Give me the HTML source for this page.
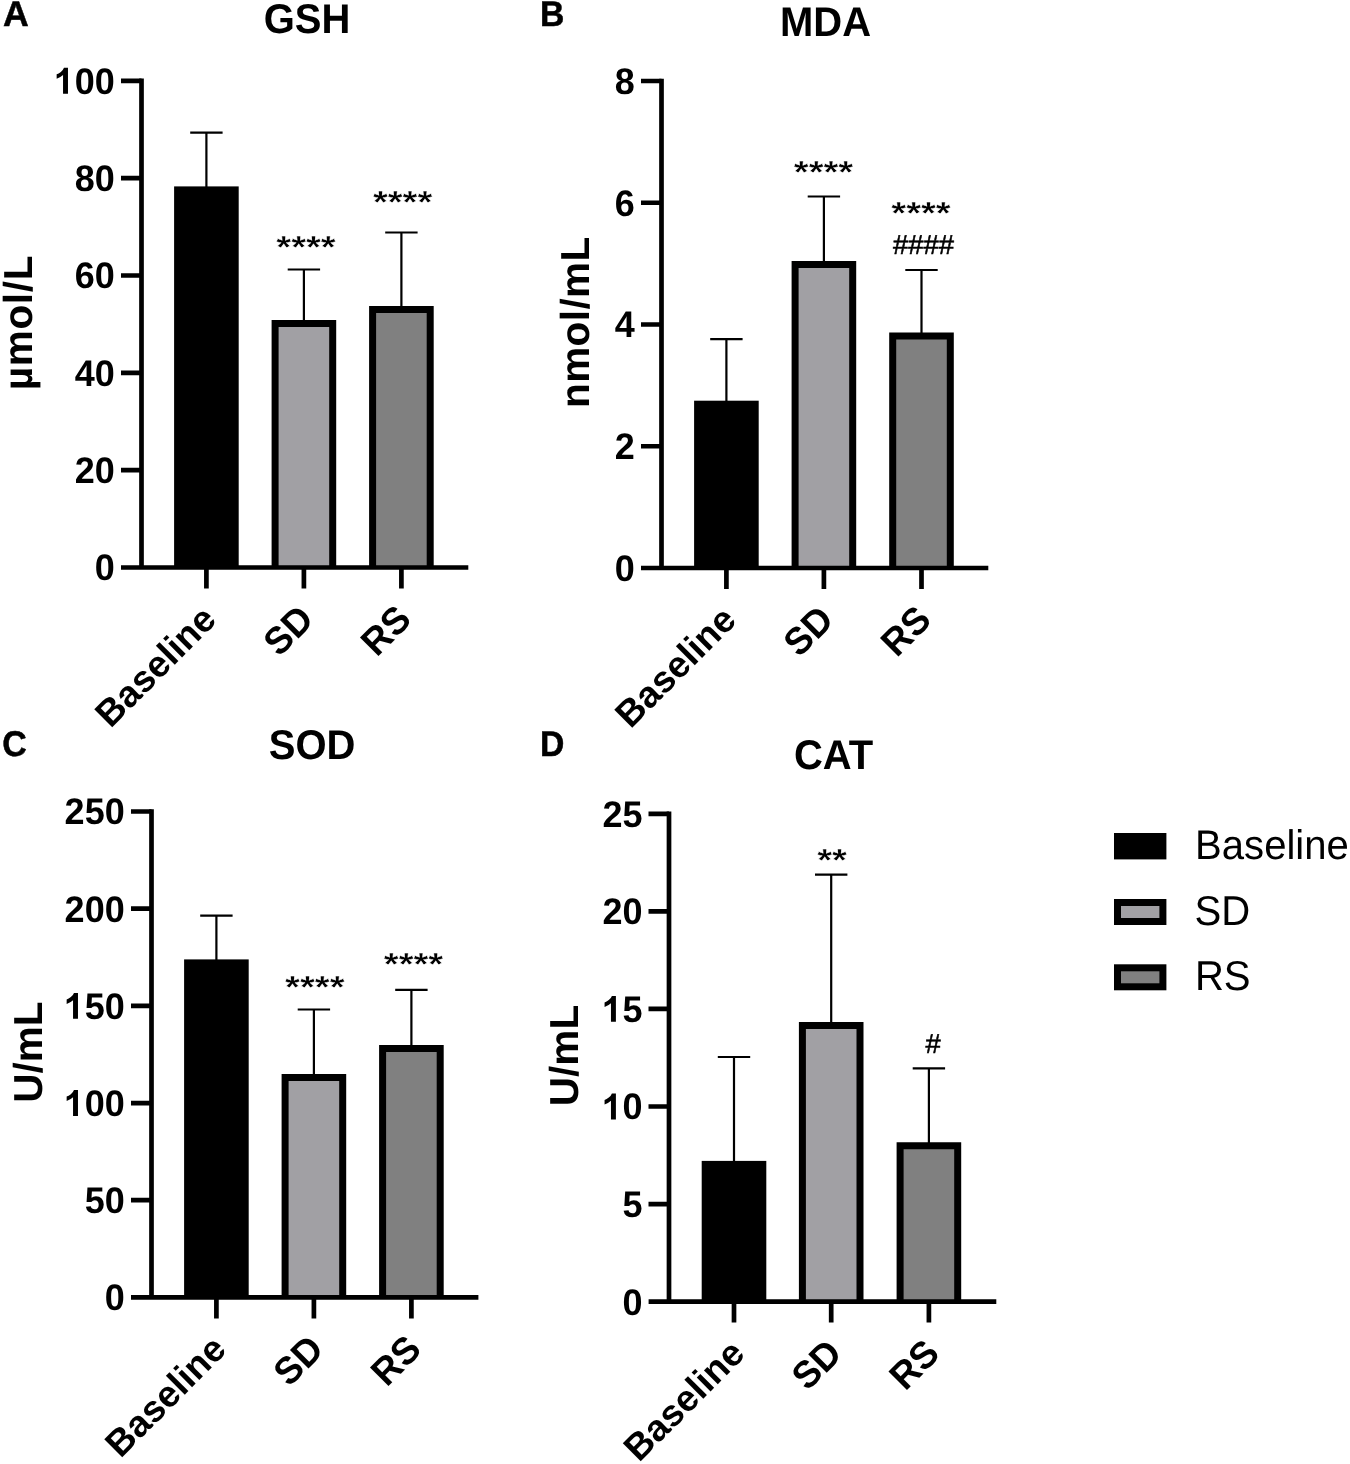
<!DOCTYPE html>
<html lang="en">
<head>
<meta charset="utf-8">
<title>Figure: GSH, MDA, SOD, CAT</title>
<style>
html,body{margin:0;padding:0;background:#fff;}
body{width:1350px;height:1464px;overflow:hidden;font-family:"Liberation Sans",sans-serif;}
svg{display:block;will-change:transform;}
</style>
</head>
<body>
<svg width="1350" height="1464" viewBox="0 0 1350 1464" font-family="Liberation Sans, sans-serif" fill="#000" shape-rendering="geometricPrecision" text-rendering="geometricPrecision">
<path d="M206.40 188.40V132.70M190.20 132.70H222.60" stroke="#000" stroke-width="2.2" fill="none"/>
<rect x="174.10" y="186.40" width="64.60" height="381.10" fill="#000"/>
<path d="M303.90 322.00V269.50M287.70 269.50H320.10" stroke="#000" stroke-width="2.2" fill="none"/>
<path d="M275.10 567.50V323.50H332.70V567.50" fill="#a1a0a4" stroke="#000" stroke-width="7.0" stroke-linejoin="miter"/>
<path d="M401.40 308.10V232.50M385.20 232.50H417.60" stroke="#000" stroke-width="2.2" fill="none"/>
<path d="M372.60 567.50V309.60H430.20V567.50" fill="#808080" stroke="#000" stroke-width="7.0" stroke-linejoin="miter"/>
<path d="M141.50 78.45V567.50M121.00 567.50H468.30" stroke="#000" stroke-width="4.7" fill="none"/>
<text transform="translate(114.70 580.40) scale(1.0 1.025)" font-size="36" font-weight="bold" text-anchor="end">0</text>
<text transform="translate(114.70 483.06) scale(1.0 1.025)" font-size="36" font-weight="bold" text-anchor="end">20</text>
<text transform="translate(114.70 385.72) scale(1.0 1.025)" font-size="36" font-weight="bold" text-anchor="end">40</text>
<text transform="translate(114.70 288.38) scale(1.0 1.025)" font-size="36" font-weight="bold" text-anchor="end">60</text>
<text transform="translate(114.70 191.04) scale(1.0 1.025)" font-size="36" font-weight="bold" text-anchor="end">80</text>
<path transform="translate(53.81 93.70) scale(0.01758 -0.01758)" d="M806 0H525V1059Q371 915 162 846V1101Q272 1137 401 1237.5T578 1472H806Z"/>
<text transform="translate(114.70 93.70) scale(1.0 1.025)" font-size="36" font-weight="bold" text-anchor="end">00</text>
<path d="M121.00 470.16H141.50M121.00 372.82H141.50M121.00 275.48H141.50M121.00 178.14H141.50M121.00 80.80H141.50M206.40 567.50V588.50M303.90 567.50V588.50M401.40 567.50V588.50" stroke="#000" stroke-width="4.7" fill="none"/>
<text transform="translate(218.10 621.40) rotate(-45)" font-size="37" font-weight="bold" text-anchor="end">Baseline</text>
<text transform="translate(315.60 621.40) rotate(-45) scale(1.0 1.03)" font-size="37" font-weight="bold" text-anchor="end">SD</text>
<text transform="translate(413.10 621.40) rotate(-45) scale(1.0 1.03)" font-size="37" font-weight="bold" text-anchor="end">RS</text>
<text transform="translate(307.00 32.70) scale(1.0 1.04)" font-size="40" font-weight="bold" text-anchor="middle">GSH</text>
<text transform="translate(2.90 26.00)" font-size="35.7" font-weight="bold" text-anchor="start" stroke="#000" stroke-width="0.5">A</text>
<text transform="translate(31.80 322.60) rotate(-90)" font-size="40.5" font-weight="bold" text-anchor="middle" letter-spacing="0.7">µmol/L</text>
<text transform="translate(306.00 257.80) scale(1.0 0.84)" font-size="38.2" font-weight="bold" text-anchor="middle" stroke="#fff" stroke-width="0.55">****</text>
<text transform="translate(402.60 212.80) scale(1.0 0.84)" font-size="38.2" font-weight="bold" text-anchor="middle" stroke="#fff" stroke-width="0.55">****</text>
<path d="M726.40 402.70V339.10M710.20 339.10H742.60" stroke="#000" stroke-width="2.2" fill="none"/>
<rect x="694.10" y="400.70" width="64.60" height="167.30" fill="#000"/>
<path d="M823.90 263.00V196.50M807.70 196.50H840.10" stroke="#000" stroke-width="2.2" fill="none"/>
<path d="M795.10 568.00V264.50H852.70V568.00" fill="#a1a0a4" stroke="#000" stroke-width="7.0" stroke-linejoin="miter"/>
<path d="M921.50 334.60V270.00M905.30 270.00H937.70" stroke="#000" stroke-width="2.2" fill="none"/>
<path d="M892.70 568.00V336.10H950.30V568.00" fill="#808080" stroke="#000" stroke-width="7.0" stroke-linejoin="miter"/>
<path d="M661.50 78.65V568.00M641.00 568.00H988.30" stroke="#000" stroke-width="4.7" fill="none"/>
<text transform="translate(634.70 580.90) scale(1.0 1.025)" font-size="36" font-weight="bold" text-anchor="end">0</text>
<text transform="translate(634.70 459.15) scale(1.0 1.025)" font-size="36" font-weight="bold" text-anchor="end">2</text>
<text transform="translate(634.70 337.40) scale(1.0 1.025)" font-size="36" font-weight="bold" text-anchor="end">4</text>
<text transform="translate(634.70 215.65) scale(1.0 1.025)" font-size="36" font-weight="bold" text-anchor="end">6</text>
<text transform="translate(634.70 93.90) scale(1.0 1.025)" font-size="36" font-weight="bold" text-anchor="end">8</text>
<path d="M641.00 446.25H661.50M641.00 324.50H661.50M641.00 202.75H661.50M641.00 81.00H661.50M726.40 568.00V589.00M823.90 568.00V589.00M921.50 568.00V589.00" stroke="#000" stroke-width="4.7" fill="none"/>
<text transform="translate(738.10 621.90) rotate(-45)" font-size="37" font-weight="bold" text-anchor="end">Baseline</text>
<text transform="translate(835.60 621.90) rotate(-45) scale(1.0 1.03)" font-size="37" font-weight="bold" text-anchor="end">SD</text>
<text transform="translate(933.20 621.90) rotate(-45) scale(1.0 1.03)" font-size="37" font-weight="bold" text-anchor="end">RS</text>
<text transform="translate(825.50 36.00) scale(1.0 1.04)" font-size="40" font-weight="bold" text-anchor="middle">MDA</text>
<text transform="translate(540.10 26.00) scale(0.945 1.0)" font-size="35.7" font-weight="bold" text-anchor="start" stroke="#000" stroke-width="0.5">B</text>
<text transform="translate(588.90 322.20) rotate(-90)" font-size="40.5" font-weight="bold" text-anchor="middle" letter-spacing="0.4">nmol/mL</text>
<text transform="translate(823.50 182.80) scale(1.0 0.84)" font-size="38.2" font-weight="bold" text-anchor="middle" stroke="#fff" stroke-width="0.55">****</text>
<text transform="translate(921.00 223.80) scale(1.0 0.84)" font-size="38.2" font-weight="bold" text-anchor="middle" stroke="#fff" stroke-width="0.55">****</text>
<text transform="translate(923.50 253.90)" font-size="27.4" text-anchor="middle" stroke="#000" stroke-width="0.55">####</text>
<path d="M216.40 961.40V915.60M200.20 915.60H232.60" stroke="#000" stroke-width="2.2" fill="none"/>
<rect x="184.10" y="959.40" width="64.60" height="338.00" fill="#000"/>
<path d="M313.90 1076.10V1009.50M297.70 1009.50H330.10" stroke="#000" stroke-width="2.2" fill="none"/>
<path d="M285.10 1297.40V1077.60H342.70V1297.40" fill="#a1a0a4" stroke="#000" stroke-width="7.0" stroke-linejoin="miter"/>
<path d="M411.40 1047.00V989.90M395.20 989.90H427.60" stroke="#000" stroke-width="2.2" fill="none"/>
<path d="M382.60 1297.40V1048.50H440.20V1297.40" fill="#808080" stroke="#000" stroke-width="7.0" stroke-linejoin="miter"/>
<path d="M151.50 809.15V1297.40M131.00 1297.40H478.40" stroke="#000" stroke-width="4.7" fill="none"/>
<text transform="translate(124.70 1310.30) scale(1.0 1.025)" font-size="36" font-weight="bold" text-anchor="end">0</text>
<text transform="translate(124.70 1213.12) scale(1.0 1.025)" font-size="36" font-weight="bold" text-anchor="end">50</text>
<path transform="translate(63.81 1115.94) scale(0.01758 -0.01758)" d="M806 0H525V1059Q371 915 162 846V1101Q272 1137 401 1237.5T578 1472H806Z"/>
<text transform="translate(124.70 1115.94) scale(1.0 1.025)" font-size="36" font-weight="bold" text-anchor="end">00</text>
<path transform="translate(63.81 1018.76) scale(0.01758 -0.01758)" d="M806 0H525V1059Q371 915 162 846V1101Q272 1137 401 1237.5T578 1472H806Z"/>
<text transform="translate(124.70 1018.76) scale(1.0 1.025)" font-size="36" font-weight="bold" text-anchor="end">50</text>
<text transform="translate(124.70 921.58) scale(1.0 1.025)" font-size="36" font-weight="bold" text-anchor="end">200</text>
<text transform="translate(124.70 824.40) scale(1.0 1.025)" font-size="36" font-weight="bold" text-anchor="end">250</text>
<path d="M131.00 1200.22H151.50M131.00 1103.04H151.50M131.00 1005.86H151.50M131.00 908.68H151.50M131.00 811.50H151.50M216.40 1297.40V1318.40M313.90 1297.40V1318.40M411.40 1297.40V1318.40" stroke="#000" stroke-width="4.7" fill="none"/>
<text transform="translate(228.10 1351.30) rotate(-45)" font-size="37" font-weight="bold" text-anchor="end">Baseline</text>
<text transform="translate(325.60 1351.30) rotate(-45) scale(1.0 1.03)" font-size="37" font-weight="bold" text-anchor="end">SD</text>
<text transform="translate(423.10 1351.30) rotate(-45) scale(1.0 1.03)" font-size="37" font-weight="bold" text-anchor="end">RS</text>
<text transform="translate(312.10 758.90) scale(1.0 1.04)" font-size="40" font-weight="bold" text-anchor="middle">SOD</text>
<text transform="translate(2.30 755.90) scale(0.95 1.0)" font-size="35.7" font-weight="bold" text-anchor="start" stroke="#000" stroke-width="0.5">C</text>
<text transform="translate(41.50 1052.20) rotate(-90)" font-size="40.5" font-weight="bold" text-anchor="middle">U/mL</text>
<text transform="translate(314.80 998.30) scale(1.0 0.84)" font-size="38.2" font-weight="bold" text-anchor="middle" stroke="#fff" stroke-width="0.55">****</text>
<text transform="translate(413.50 975.30) scale(1.0 0.84)" font-size="38.2" font-weight="bold" text-anchor="middle" stroke="#fff" stroke-width="0.55">****</text>
<path d="M734.00 1162.90V1057.00M717.80 1057.00H750.20" stroke="#000" stroke-width="2.2" fill="none"/>
<rect x="701.70" y="1160.90" width="64.60" height="140.70" fill="#000"/>
<path d="M831.20 1024.10V874.70M815.00 874.70H847.40" stroke="#000" stroke-width="2.2" fill="none"/>
<path d="M802.40 1301.60V1025.60H860.00V1301.60" fill="#a1a0a4" stroke="#000" stroke-width="7.0" stroke-linejoin="miter"/>
<path d="M928.90 1144.30V1068.30M912.70 1068.30H945.10" stroke="#000" stroke-width="2.2" fill="none"/>
<path d="M900.10 1301.60V1145.80H957.70V1301.60" fill="#808080" stroke="#000" stroke-width="7.0" stroke-linejoin="miter"/>
<path d="M669.00 811.45V1301.60M648.60 1301.60H996.30" stroke="#000" stroke-width="4.7" fill="none"/>
<text transform="translate(642.60 1314.50) scale(1.0 1.025)" font-size="36" font-weight="bold" text-anchor="end">0</text>
<text transform="translate(642.60 1216.94) scale(1.0 1.025)" font-size="36" font-weight="bold" text-anchor="end">5</text>
<path transform="translate(601.73 1119.38) scale(0.01758 -0.01758)" d="M806 0H525V1059Q371 915 162 846V1101Q272 1137 401 1237.5T578 1472H806Z"/>
<text transform="translate(642.60 1119.38) scale(1.0 1.025)" font-size="36" font-weight="bold" text-anchor="end">0</text>
<path transform="translate(601.73 1021.82) scale(0.01758 -0.01758)" d="M806 0H525V1059Q371 915 162 846V1101Q272 1137 401 1237.5T578 1472H806Z"/>
<text transform="translate(642.60 1021.82) scale(1.0 1.025)" font-size="36" font-weight="bold" text-anchor="end">5</text>
<text transform="translate(642.60 924.26) scale(1.0 1.025)" font-size="36" font-weight="bold" text-anchor="end">20</text>
<text transform="translate(642.60 826.70) scale(1.0 1.025)" font-size="36" font-weight="bold" text-anchor="end">25</text>
<path d="M648.50 1204.04H669.00M648.50 1106.48H669.00M648.50 1008.92H669.00M648.50 911.36H669.00M648.50 813.80H669.00M734.00 1301.60V1322.60M831.20 1301.60V1322.60M928.90 1301.60V1322.60" stroke="#000" stroke-width="4.7" fill="none"/>
<text transform="translate(746.60 1355.50) rotate(-45)" font-size="37" font-weight="bold" text-anchor="end">Baseline</text>
<text transform="translate(843.80 1355.50) rotate(-45) scale(1.0 1.03)" font-size="37" font-weight="bold" text-anchor="end">SD</text>
<text transform="translate(941.50 1355.50) rotate(-45) scale(1.0 1.03)" font-size="37" font-weight="bold" text-anchor="end">RS</text>
<text transform="translate(833.50 768.80) scale(1.0 1.04)" font-size="40" font-weight="bold" text-anchor="middle">CAT</text>
<text transform="translate(540.10 756.10) scale(0.945 1.0)" font-size="35.7" font-weight="bold" text-anchor="start" stroke="#000" stroke-width="0.5">D</text>
<text transform="translate(577.70 1055.50) rotate(-90)" font-size="40.5" font-weight="bold" text-anchor="middle">U/mL</text>
<text transform="translate(832.00 870.80) scale(1.0 0.84)" font-size="38.2" font-weight="bold" text-anchor="middle" stroke="#fff" stroke-width="0.55">**</text>
<text transform="translate(933.00 1053.40)" font-size="27.4" text-anchor="middle" stroke="#000" stroke-width="0.55">#</text>
<rect x="1114.0" y="833" width="52.4" height="26.4" fill="#000"/>
<rect x="1117.5" y="902.5" width="45.4" height="19" fill="#a1a0a4" stroke="#000" stroke-width="7"/>
<rect x="1117.5" y="967.8" width="45.4" height="19" fill="#808080" stroke="#000" stroke-width="7"/>
<text transform="translate(1195.10 859.40) scale(1.0 1.03)" font-size="40.1" text-anchor="start">Baseline</text>
<text transform="translate(1194.50 924.60) scale(1.0 1.04)" font-size="40.1" text-anchor="start">SD</text>
<text transform="translate(1194.90 990.00) scale(1.0 1.04)" font-size="40.1" text-anchor="start">RS</text>
</svg>
</body>
</html>
